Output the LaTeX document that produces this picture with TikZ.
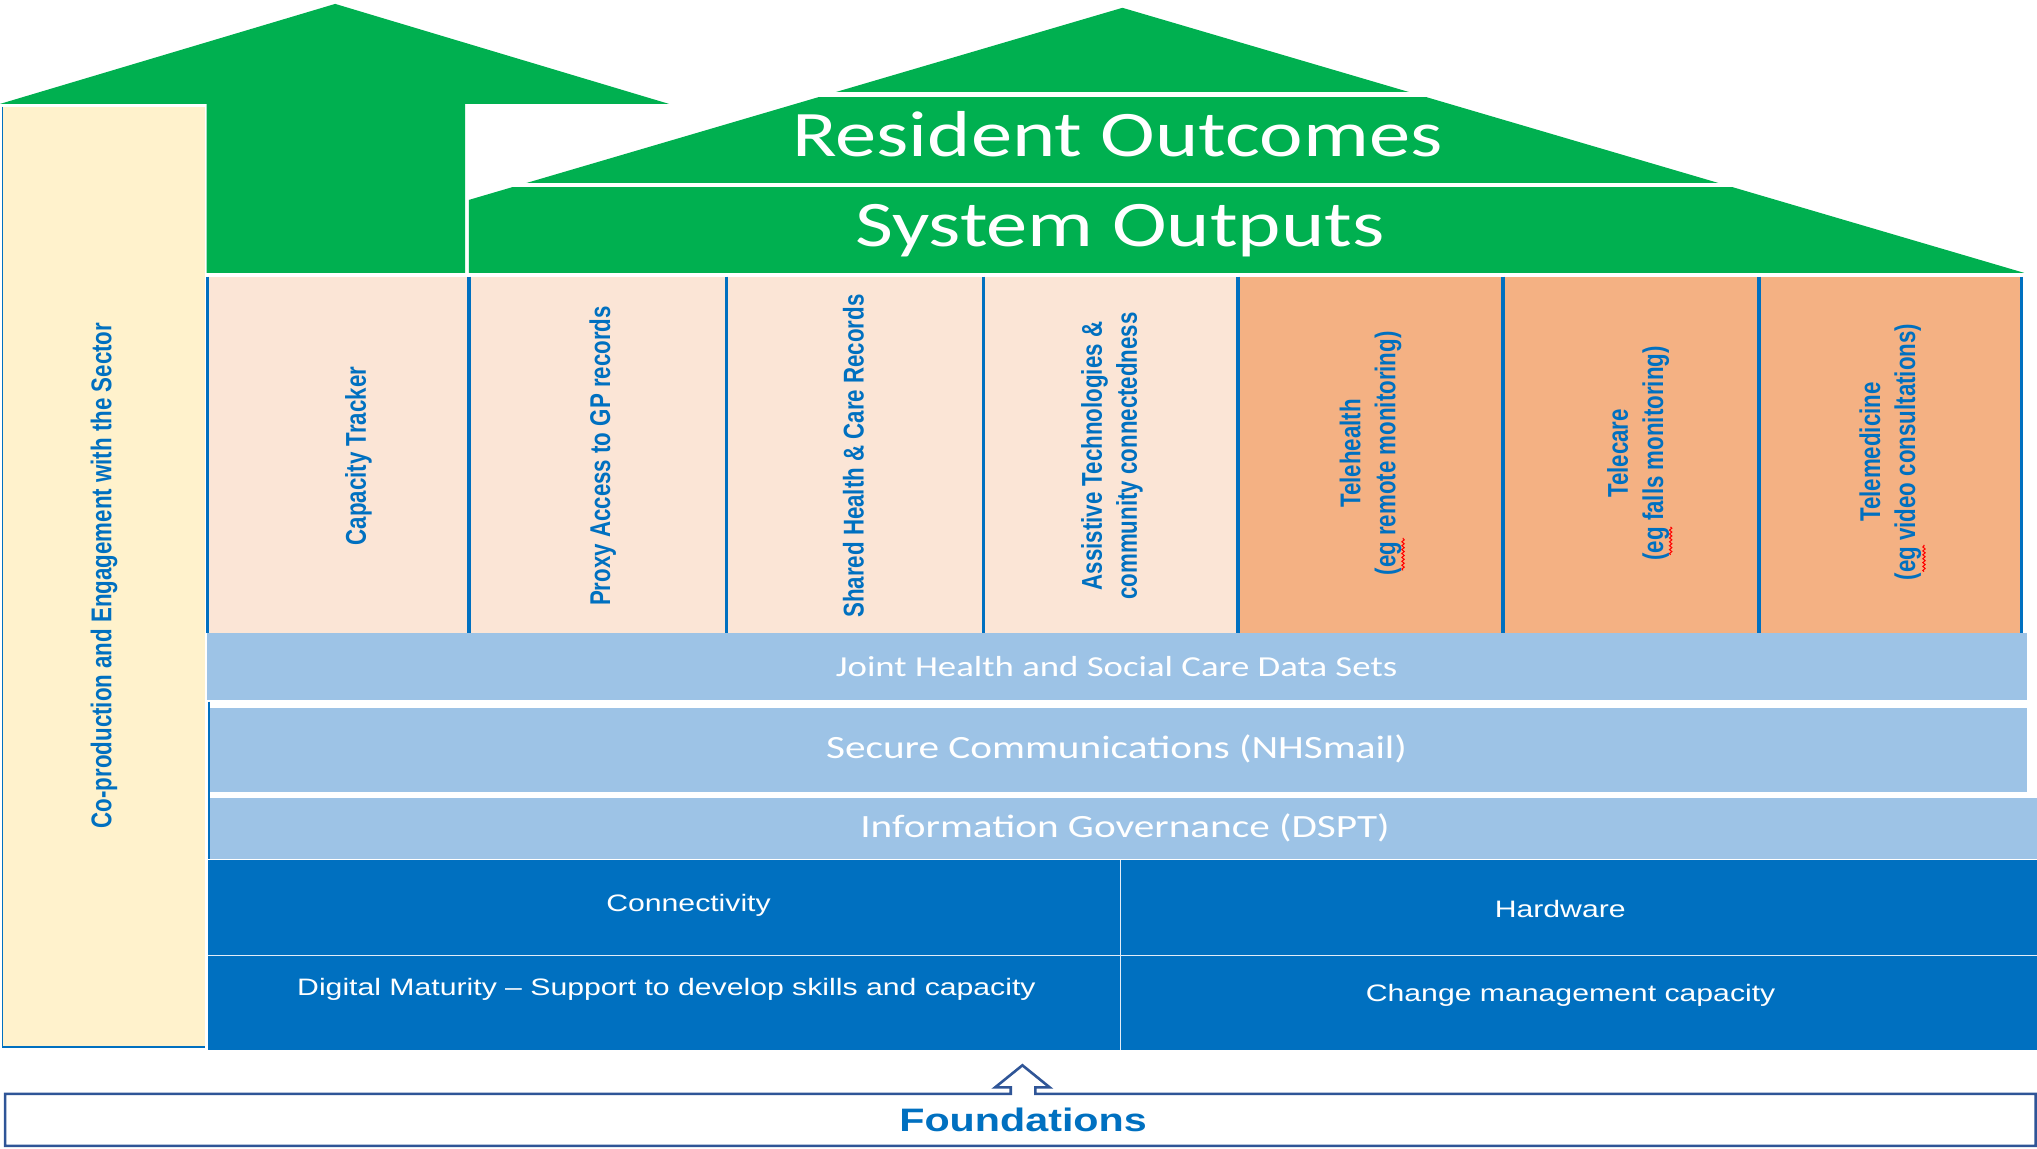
\documentclass[tikz,border=0pt]{standalone}
\usepackage{fontspec}
\usetikzlibrary{calc, decorations.pathmorphing}

\newfontfamily\roofFont[FakeStretch=1.27]{Carlito}
\newfontfamily\layerFont[FakeStretch=1.27, Ligatures=TeX]{Liberation Sans}
\newfontfamily\columnFont[FakeStretch=0.78]{Liberation Sans Bold}
\newfontfamily\baseFont[FakeStretch=1.27]{Liberation Sans Bold}

\definecolor{roofgreen}{HTML}{00B050}
\definecolor{pillaryellow}{HTML}{FFF2CC}
\definecolor{peach}{HTML}{FBE5D6}
\definecolor{apricot}{HTML}{F4B183}
\definecolor{lightband}{HTML}{9DC3E6}
\definecolor{darkband}{HTML}{0070C0}
\definecolor{textblue}{HTML}{0070C0}
\definecolor{foundline}{HTML}{2F5597}

\begin{document}
\begin{tikzpicture}[x=1pt, y=-1pt]
    \tikzset{
        every node/.style={inner sep=0pt},
        roof text/.style={text=white, anchor=base, font=\roofFont\fontsize{50}{60}\selectfont},
        layer text/.style={text=white, anchor=base, font=\roofFont\fontsize{25}{30}\selectfont},
        base text/.style={text=white, anchor=base, font=\layerFont\fontsize{18.3}{22}\selectfont},
        column text/.style={text=textblue, rotate=90, align=center, font=\columnFont\fontsize{22}{27}\selectfont},
        divider/.style={draw=textblue, line width=2.5pt},
        spell/.style={draw=red, line width=0.8pt, decorate, decoration={snake, amplitude=0.9pt, segment length=3pt}}
    }

    \useasboundingbox (0,0) rectangle (1568,884);

    % 1. 定义关键坐标
    \coordinate (ArrowTip) at (258,3);
    \coordinate (RoofTop) at (864,6);
    \coordinate (RoofRight) at (1558,210);
    \coordinate (RoofLeft) at (170,210);

    % 2. 屋顶 (Resident Outcomes / System Outputs)
    \begin{scope}
        \clip (361,0) rectangle (1568,210);
        \fill[roofgreen] (RoofTop) -- (RoofRight) -- (RoofLeft) -- cycle;
    \end{scope}
    \fill[white] (560,71) rectangle (1568,74.5);
    \fill[white] (361,141) rectangle (1568,144);
    \node[roof text] (Outcomes) at (860,120.6) {Resident Outcomes};
    \node[roof text] (Outputs) at (862,190) {System Outputs};

    % 3. 左侧大箭头
    \fill[roofgreen] (ArrowTip) -- (515,80) -- (358,80) -- (358,210)
        -- (159,210) -- (159,80) -- (0,80) -- cycle;

    % 4. 左侧立柱
    \fill[pillaryellow] (2,82) rectangle (158,806);
    \draw[textblue, line width=1pt] (2,82) -- (2,806) -- (158,806);
    \node[column text] (Pillar) at (80,443) {Co-production and Engagement with the Sector};

    % 5. 七根柱子
    \foreach \xa/\xb/\colfill in {160/361/peach, 361/559/peach, 559/757/peach, 757/953/peach,
                                 953/1157/apricot, 1157/1354/apricot, 1354/1556/apricot}
        \fill[\colfill] (\xa,213) rectangle (\xb,487);
    \foreach \xd in {160,361,559,757,953,1157,1354,1556}
        \draw[divider] (\xd,213) -- (\xd,487);

    \node[column text] (Capacity) at (276,351) {Capacity Tracker};
    \node[column text] (Proxy) at (464,351) {Proxy Access to GP records};
    \node[column text] (Shared) at (657,351) {Shared Health \& Care Records};
    \node[column text] (Assistive) at (856,351) {Assistive Technologies \&\\community connectedness};
    \node[column text] (Telehealth) at (1055,349) {Telehealth\\(eg remote monitoring)};
    \node[column text] (Telecare) at (1261,349) {Telecare\\(eg falls monitoring)};
    \node[column text] (Telemedicine) at (1455,348) {Telemedicine\\(eg video consultations)};

    % 拼写检查的红色波浪线
    \draw[spell] (1080,439) -- (1080,414);
    \draw[spell] (1286,427) -- (1286,405.5);
    \draw[spell] (1481,440) -- (1481,419.5);

    % 6. 浅蓝色横条
    \fill[lightband] (159,487) rectangle (1560,538.5);
    \fill[lightband] (162,545) rectangle (1560,609.5);
    \fill[lightband] (162,614) rectangle (1568,661);
    \draw[textblue, line width=1.5pt] (161,540) -- (161,661);
    \node[layer text, font=\roofFont\fontsize{22.3}{27}\selectfont] (DataSets) at (859.5,520.5) {Joint Health and Social Care Data Sets};
    \node[layer text] (Secure) at (859.5,584) {Secure Communications (NHSmail)};
    \node[layer text] (Governance) at (866,645) {Information Governance (DSPT)};

    % 7. 深蓝色基础层
    \fill[darkband] (160,662) rectangle (1568,808);
    \draw[white!70!lightband, line width=1pt] (160,735.5) -- (1568,735.5);
    \draw[white!70!lightband, line width=1pt] (862.5,662) -- (862.5,808);
    \node[base text] (Connectivity) at (530,702) {Connectivity};
    \node[base text] (Hardware) at (1201,706) {Hardware};
    \node[base text] (Maturity) at (513,766.5) {Digital Maturity – Support to develop skills and capacity};
    \node[base text] (Change) at (1209,771) {Change management capacity};

    % 8. 地基 (Foundations) 及空心箭头
    \draw[foundline, line width=2pt, fill=white] (4,842) -- (778,842) -- (778,837) -- (766,837)
        -- (787,820) -- (808,837) -- (797,837) -- (797,842) -- (1567,842)
        -- (1567,882) -- (4,882) -- cycle;
    \node[text=textblue, anchor=base, font=\baseFont\fontsize{25}{30}\selectfont] (Foundations) at (787.5,871) {Foundations};

\end{tikzpicture}
\end{document}
